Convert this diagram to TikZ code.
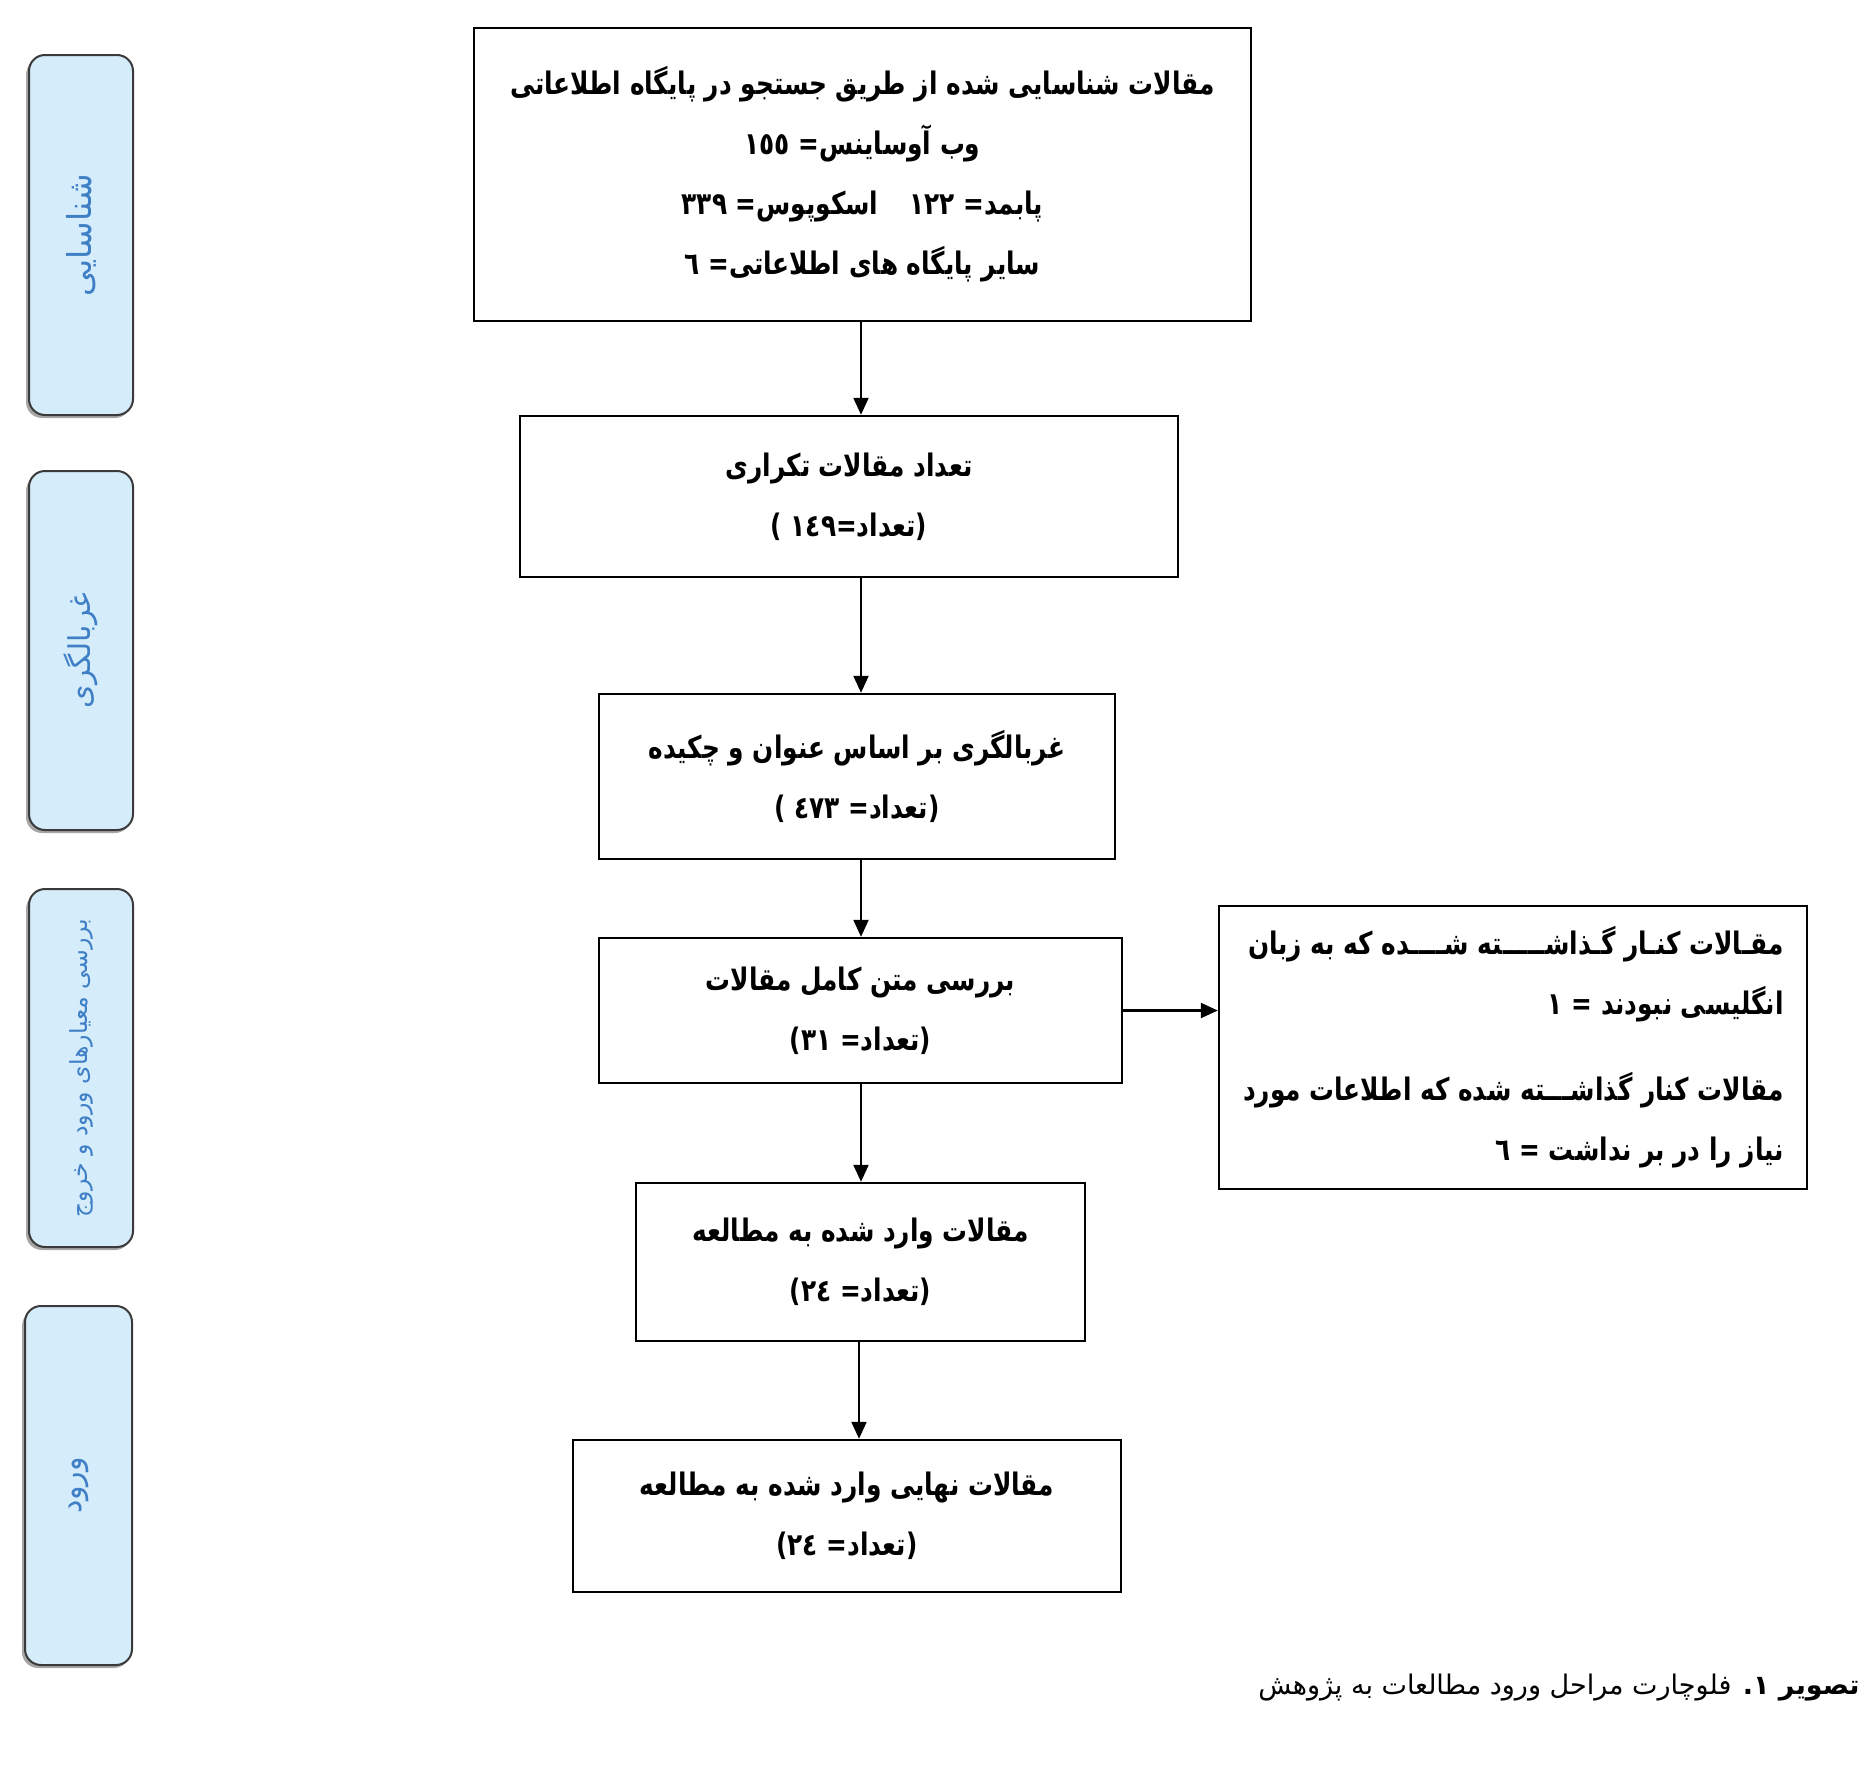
\documentclass[tikz,border=0pt]{standalone}
\usepackage{fontspec}
\TeXXeTstate=1
\newfontfamily\farsifont[Script=Arabic]{DejaVu Sans}
\newfontfamily\boxfont[Script=Arabic, FakeStretch=0.8]{DejaVu Sans}
\usetikzlibrary{arrows.meta}
\newcommand{\RL}[1]{\beginR #1\endR}
\definecolor{sidefill}{HTML}{D5ECFB}
\definecolor{sidetext}{HTML}{3F7FC6}
\definecolor{sideedge}{HTML}{3A3A3A}
\begin{document}
\begin{tikzpicture}[x=0.5pt,y=-0.5pt,
  mainbox/.style={draw=black, line width=1.2pt, fill=white, align=center, inner sep=0pt,
    font=\boxfont\bfseries\fontsize{15.5}{30}\selectfont},
  boxtext/.style={align=right, inner sep=0pt,
    font=\boxfont\bfseries\fontsize{15.5}{30}\selectfont},
  sidebox/.style={draw=sideedge, line width=1pt, fill=sidefill, rounded corners=8pt,
    inner sep=0pt},
  sidelabel/.style={inner sep=0pt, text=sidetext, rotate=90},
  sideshadow/.style={fill=gray!70, rounded corners=8pt, draw=none},
  arr/.style={draw=black, line width=1.1pt, -{Triangle[length=8.5pt,width=7.5pt]}},
  captext/.style={font=\farsifont\fontsize{13.5}{16}\selectfont, inner sep=0pt}
]
\useasboundingbox[fill=white] (0,0) rectangle (1876,1767);

% side shadows
\fill[sideshadow] (26,59) rectangle (131,418);
\fill[sideshadow] (26,475) rectangle (131,833);
\fill[sideshadow] (26,893) rectangle (131,1250);
\fill[sideshadow] (22,1310) rectangle (130,1668);

% side labels
\node[sidebox, minimum width=52pt, minimum height=180pt] (s1) at (81,235) {};
\node[sidebox, minimum width=52pt, minimum height=179.5pt] (s2) at (81,650.5) {};
\node[sidebox, minimum width=52pt, minimum height=179pt] (s3) at (81,1068) {};
\node[sidebox, minimum width=53.5pt, minimum height=179.5pt] (s4) at (78.5,1485.5) {};
\node[sidelabel, font=\farsifont\fontsize{16.5}{18}\selectfont] (t1) at (s1.center) {\RL{شناسایی}};
\node[sidelabel, font=\farsifont\fontsize{15}{18}\selectfont] (t2) at (s2.center) {\RL{غربالگری}};
\node[sidelabel, font=\farsifont\fontsize{11.8}{14}\selectfont] (t3) at (s3.center) {\RL{بررسی معیارهای ورود و خروج}};
\node[sidelabel, font=\farsifont\fontsize{15}{18}\selectfont] (t4) at (s4.center) {\RL{ورود}};

% main boxes
\node[mainbox, minimum width=388.5pt, minimum height=146.5pt] (b1) at (862.5,174.5)
  {\RL{مقالات شناسایی شده از طریق جستجو در پایگاه اطلاعاتی}\\
   \RL{وب آوساینس= ١٥٥}\\
   \RL{پابمد= ١٢٢\quad اسکوپوس= ٣٣٩}\\
   \RL{سایر پایگاه های اطلاعاتی= ٦}};
\node[mainbox, minimum width=329pt, minimum height=80.5pt] (b2) at (849,496.5)
  {\RL{تعداد مقالات تکراری}\\ \RL{(تعداد=١٤٩ )}};
\node[mainbox, minimum width=258pt, minimum height=82.5pt] (b3) at (857,776.5)
  {\RL{غربالگری بر اساس عنوان و چکیده}\\ \RL{(تعداد= ٤٧٣ )}};
\node[mainbox, minimum width=261.5pt, minimum height=72.5pt] (b4) at (860.5,1010.5)
  {\RL{بررسی متن کامل مقالات}\\ \RL{(تعداد= ٣١)}};
\node[mainbox, minimum width=294pt, minimum height=141.5pt] (rb) at (1513,1047.5) {};
\node[boxtext, anchor=east, xshift=-12pt] (rbt) at (rb.east)
  {\RL{مقـالات کنـار گـذاشـــــته شــــده که به زبان}\\
   \RL{انگلیسی نبودند = ١}\\[13pt]
   \RL{مقالات کنار گذاشـــته شده که اطلاعات مورد}\\
   \RL{نیاز را در بر نداشت = ٦}};
\node[mainbox, minimum width=224.5pt, minimum height=79pt] (b5) at (860.5,1262)
  {\RL{مقالات وارد شده به مطالعه}\\ \RL{(تعداد= ٢٤)}};
\node[mainbox, minimum width=274pt, minimum height=76pt] (b6) at (847,1516)
  {\RL{مقالات نهایی وارد شده به مطالعه}\\ \RL{(تعداد= ٢٤)}};

% connectors
\coordinate (ax) at (861,0);
\coordinate (ax2) at (859,0);
\draw[arr] (ax |- b1.south) -- (ax |- b2.north);
\draw[arr] (ax |- b2.south) -- (ax |- b3.north);
\draw[arr] (ax |- b3.south) -- (ax |- b4.north);
\draw[arr] (ax |- b4.south) -- (ax |- b5.north);
\draw[arr] (ax2 |- b5.south) -- (ax2 |- b6.north);
\draw[arr] (b4.east) -- (b4.east -| rb.west);

% caption
\node[captext, anchor=east] (cap) at (1860,1688)
  {\RL{\textbf{تصویر ١.} فلوچارت مراحل ورود مطالعات به پژوهش}};
\end{tikzpicture}
\end{document}
